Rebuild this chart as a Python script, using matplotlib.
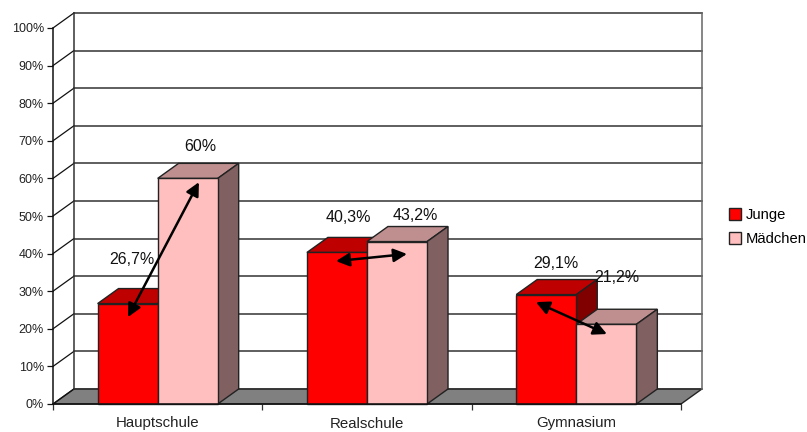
import matplotlib
matplotlib.use('Agg')
from matplotlib import pyplot as plt
from matplotlib.patches import Patch, Polygon
import numpy as np

plt.rcParams['font.family'] = ['Liberation Sans', 'DejaVu Sans']

categories = ['Hauptschule', 'Realschule', 'Gymnasium']
junge = [26.7, 40.3, 29.1]
maedchen = [60, 43.2, 21.2]
y_ticks = [0, 10, 20, 30, 40, 50, 60, 70, 80, 90, 100]

# label text, then where it sits (x in category units, y in percent)
value_labels = ['26,7%', '60%', '40,3%', '43,2%', '29,1%', '21,2%']
label_x = [0.377, 0.702, 1.409, 1.729, 2.403, 2.694]
label_y = [38.5, 68.6, 49.7, 50.2, 37.5, 33.7]

# hand drawn arrows in the original: start x, start y, end x, end y
arrows = [(0.358, 23.1, 0.697, 59.0),
          (1.352, 38.0, 1.691, 39.9),
          (2.307, 27.1, 2.646, 18.6)]

DX = 0.1      # depth of the 3D box, category units
DY = 4.0      # depth of the 3D box, percent
BAR_W = 0.287
LINE = '#222222'


def box(ax, left, value, front, top, side):
    right = left + BAR_W
    ax.add_patch(Polygon([(left, value), (left + DX, value + DY),
                          (right + DX, value + DY), (right, value)],
                         facecolor=top, edgecolor=LINE, lw=1, clip_on=False, zorder=3))
    ax.add_patch(Polygon([(right, 0), (right + DX, DY),
                          (right + DX, value + DY), (right, value)],
                         facecolor=side, edgecolor=LINE, lw=1, clip_on=False, zorder=3))
    ax.bar(left, value, BAR_W, align='edge', color=front, edgecolor=LINE, lw=1,
           clip_on=False, zorder=3)


fig = plt.figure(figsize=(8.07, 4.32), dpi=100)
ax = fig.add_axes([53 / 807, 1 - 404 / 432, 628 / 807, 376 / 432])
ax.set_xlim(0, len(categories))
ax.set_ylim(0, 100)

# floor
ax.add_patch(Polygon([(0, 0), (DX, DY), (3 + DX, DY), (3, 0)],
                     facecolor='#808080', edgecolor=LINE, lw=1, clip_on=False, zorder=1))

# back wall grid and side wall lines
for t in y_ticks:
    ax.plot([DX, 3 + DX], [t + DY, t + DY], color='#333333', lw=1.1, clip_on=False, zorder=2)
    ax.plot([0, DX], [t, t + DY], color='#111111', lw=0.9, clip_on=False, zorder=2)
ax.plot([DX, DX], [DY, 100 + DY], color='#333333', lw=1.1, clip_on=False, zorder=2)
ax.plot([3 + DX, 3 + DX], [DY, 100 + DY], color='#666666', lw=1.1, clip_on=False, zorder=2)

for i in range(len(categories)):
    left = i + 0.5 - BAR_W
    box(ax, left, junge[i], '#FF0000', '#BF0000', '#800000')
    box(ax, left + BAR_W, maedchen[i], '#FFBFBF', '#BF8F8F', '#806060')

for txt, x, y in zip(value_labels, label_x, label_y):
    ax.text(x, y, txt, fontsize=11.5, color='#111111', ha='center', va='center', zorder=6)

for x0, y0, x1, y1 in arrows:
    ax.annotate('', xy=(x1, y1), xytext=(x0, y0), zorder=5,
                arrowprops=dict(arrowstyle='<|-|>,head_length=0.8,head_width=0.4',
                                color='black', lw=1.8, shrinkA=0, shrinkB=0))

for s in ['top', 'right']:
    ax.spines[s].set_visible(False)
for s in ['left', 'bottom']:
    ax.spines[s].set_linewidth(1.1)
    ax.spines[s].set_color('#111111')
    ax.spines[s].set_zorder(4)

ax.set_yticks(y_ticks)
ax.set_yticklabels([f'{t}%' for t in y_ticks], fontsize=9, color='#222222')
ax.set_xticks(np.arange(len(categories) + 1))
ax.set_xticklabels([])
ax.set_xticks(np.arange(len(categories)) + 0.5, minor=True)
ax.set_xticklabels(categories, minor=True, fontsize=10.8, color='#222222')
ax.tick_params(axis='x', which='major', length=4, width=0.9, color='#333333')
ax.tick_params(axis='x', which='minor', length=0, pad=9)
ax.tick_params(axis='y', length=4, width=0.9, pad=2.5, color='#111111')

handles = [Patch(facecolor='#FF0000', edgecolor=LINE, label='Junge'),
           Patch(facecolor='#FFBFBF', edgecolor=LINE, label='Mädchen')]
fig.legend(handles=handles, loc='upper left', bbox_to_anchor=(726 / 807, 1 - 205 / 432),
           frameon=False, fontsize=10.6, handlelength=0.85, handleheight=0.85,
           handletextpad=0.3, labelspacing=0.7, borderpad=0.2, borderaxespad=0)

fig.savefig('out.png', dpi=100)
